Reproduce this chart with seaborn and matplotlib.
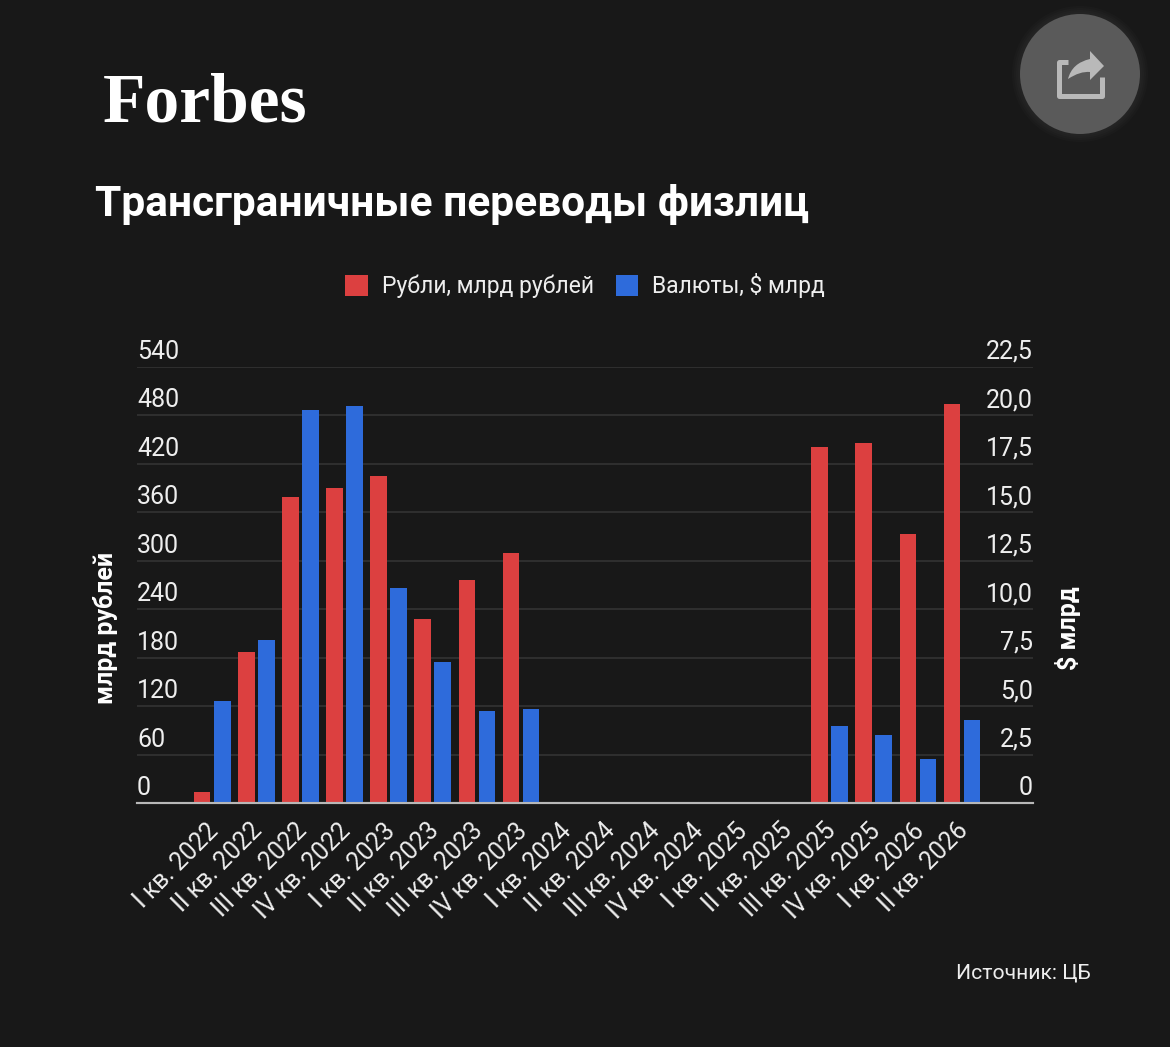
import numpy as np
import pandas as pd
import matplotlib.pyplot as plt
from matplotlib.patches import Circle, PathPatch, Patch
from matplotlib.path import Path
from matplotlib.transforms import ScaledTranslation
import seaborn as sns

W, H = 1170, 1047
BG = "#181818"
RED = "#DC4040"
BLUE = "#2E6BDB"

quarters = [
    "I кв. 2022", "II кв. 2022", "III кв. 2022", "IV кв. 2022",
    "I кв. 2023", "II кв. 2023", "III кв. 2023", "IV кв. 2023",
    "I кв. 2024", "II кв. 2024", "III кв. 2024", "IV кв. 2024",
    "I кв. 2025", "II кв. 2025", "III кв. 2025", "IV кв. 2025",
    "I кв. 2026", "II кв. 2026",
]
rubles = [14, 187, 379, 390, 405, 228, 276, 309,
          np.nan, np.nan, np.nan, np.nan, np.nan, np.nan,
          440, 446, 333, 494]
currency = [5.3, 8.4, 20.25, 20.45, 11.1, 7.3, 4.75, 4.85,
            np.nan, np.nan, np.nan, np.nan, np.nan, np.nan,
            4.0, 3.5, 2.3, 4.3]
left_ticks = [0, 60, 120, 180, 240, 300, 360, 420, 480, 540]
right_ticks = [0, 2.5, 5, 7.5, 10, 12.5, 15, 17.5, 20, 22.5]
right_labels = ["0", "2,5", "5,0", "7,5", "10,0", "12,5", "15,0", "17,5", "20,0", "22,5"]
series_names = ["Рубли, млрд рублей", "Валюты, $ млрд"]

df = pd.DataFrame({
    "quarter": quarters * 2,
    "series": [series_names[0]] * len(quarters) + [series_names[1]] * len(quarters),
    "value": rubles + currency,
})

sns.set_style("dark")
plt.rcParams["font.family"] = ["Roboto", "DejaVu Sans"]
plt.rcParams["figure.facecolor"] = BG


def fx(x):
    return x / W


def fy(y):
    return 1 - y / H


def nudge(label, dx, dy):
    # move a tick label by picture pixels
    label.set_transform(label.get_transform() + ScaledTranslation(dx / 100, dy / 100, fig.dpi_scale_trans))


fig = plt.figure(figsize=(W / 100, H / 100), dpi=100, facecolor=BG)

# plot area in pixels of the picture
x0, x1, y_top, y_base = 137, 1033, 366.6, 803.4
ax = fig.add_axes([fx(x0), fy(y_base), fx(x1 - x0), (y_base - y_top) / H])
ax.set_facecolor(BG)
ax2 = ax.twinx()
ax2.patch.set_visible(False)

palette = dict(zip(series_names, [RED, BLUE]))
for axis, name in [(ax, series_names[0]), (ax2, series_names[1])]:
    sns.barplot(data=df[df["series"] == name], x="quarter", y="value", hue="series",
                order=quarters, hue_order=series_names, palette=palette, dodge=True,
                width=0.907, gap=0.17, saturation=1, errorbar=None, legend=False,
                linewidth=0, ax=axis)

ax.set_xlim(-1.705, 18.61)
ax.set_ylim(0, 540)
ax2.set_ylim(0, 22.5)

ax.set_yticks(left_ticks)
ax.set_yticklabels([str(v) for v in left_ticks])
ax2.set_yticks(right_ticks)
ax2.set_yticklabels(right_labels)
ax.grid(axis="y", color="#2f2f2f", lw=1.4)
ax.grid(axis="x", visible=False)
ax2.grid(False)
ax.set_axisbelow(True)
ax.tick_params(axis="y", length=0, pad=0, labelsize=18, labelcolor="#eeeeee")
ax2.tick_params(axis="y", length=0, pad=0, labelsize=18, labelcolor="#eeeeee")

ax.set_xticks(range(len(quarters)))
ax.set_xticklabels(quarters, rotation=45, ha="right", rotation_mode="anchor")
ax.tick_params(axis="x", length=0, pad=11, labelsize=17.7, labelcolor="#eeeeee")
ax2.tick_params(axis="x", length=0, labelbottom=False)
ax.set_xlabel("")
ax2.set_xlabel("")

for lab in ax.get_yticklabels():
    lab.set_ha("left")
    lab.set_va("bottom")
    nudge(lab, 0, 3)
for lab in ax2.get_yticklabels():
    lab.set_ha("right")
    lab.set_va("bottom")
    nudge(lab, 0, 3)
for lab in ax.get_xticklabels():
    nudge(lab, -6, 0)

for axis in (ax, ax2):
    for side in ("top", "left", "right"):
        axis.spines[side].set_visible(False)
    axis.spines["bottom"].set_color("#b8b8b8")
    axis.spines["bottom"].set_linewidth(1.5)

ax.set_ylabel("млрд рублей", fontsize=18, fontweight="bold", color="white")
ax.yaxis.set_label_coords((118.5 - x0) / (x1 - x0), (y_base - 628) / (y_base - y_top))
ax2.set_ylabel("$ млрд", fontsize=18, fontweight="bold", color="white", rotation=90)
ax2.yaxis.set_label_coords((1055 - x0) / (x1 - x0), (y_base - 628) / (y_base - y_top))

handles = [Patch(facecolor=RED, linewidth=0), Patch(facecolor=BLUE, linewidth=0)]
fig.legend(handles, series_names, loc="center", bbox_to_anchor=(fx(585), fy(286)), ncol=2,
           frameon=False, fontsize=16.5, labelcolor="#eeeeee", handlelength=1.0, handleheight=1.0,
           handletextpad=0.6, columnspacing=0.95)

fig.text(fx(103), fy(121), "Forbes", family="Liberation Serif", fontweight="bold",
         fontsize=50, color="white", ha="left", va="baseline")
fig.text(fx(95), fy(216), "Трансграничные переводы физлиц", fontsize=30.6, fontweight="bold",
         color="white", ha="left", va="baseline")
fig.text(fx(1091), fy(973), "Источник: ЦБ", fontsize=15.2, color="#eeeeee", ha="right", va="center")

# share button drawn in picture pixels
deco = fig.add_axes([0, 0, 1, 1], zorder=5)
deco.set_xlim(0, W)
deco.set_ylim(H, 0)
deco.axis("off")
for r in [68, 66, 64, 62]:
    deco.add_patch(Circle((1080, 74), r, fc="#5a5a5a", ec="none", alpha=0.05))
deco.add_patch(Circle((1080, 74), 60, fc="#5a5a5a", ec="none"))
tray = Path([(1068, 61.5), (1058.5, 61.5), (1058.5, 96), (1101.5, 96), (1101.5, 77)],
            [Path.MOVETO, Path.LINETO, Path.LINETO, Path.LINETO, Path.LINETO])
deco.add_patch(PathPatch(tray, fc="none", ec="#b9b9b9", lw=3.6, joinstyle="round"))
arrow = Path([(1068, 79), (1072, 63), (1090, 59), (1090, 51), (1104, 66), (1090, 80),
              (1090, 72), (1080, 71), (1068, 79), (1068, 79)],
             [Path.MOVETO, Path.CURVE3, Path.CURVE3, Path.LINETO, Path.LINETO, Path.LINETO,
              Path.LINETO, Path.CURVE3, Path.CURVE3, Path.CLOSEPOLY])
deco.add_patch(PathPatch(arrow, fc="#b9b9b9", ec="none"))

fig.savefig("out.png", dpi=100, facecolor=BG)
